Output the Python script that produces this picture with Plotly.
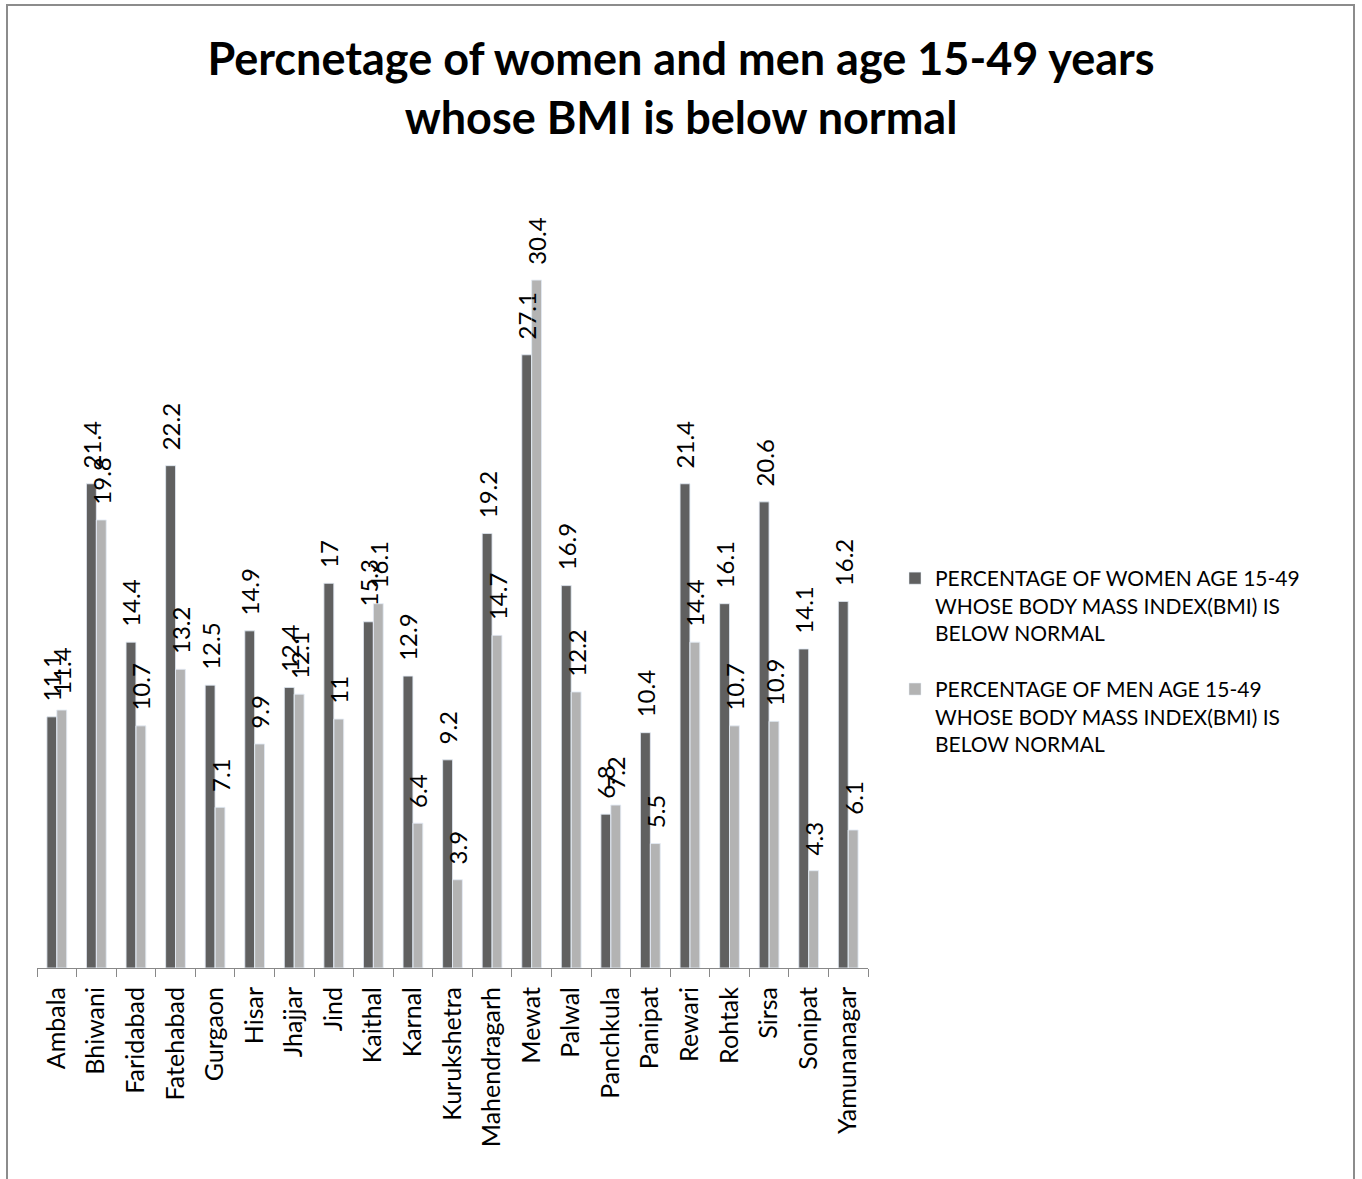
import plotly.graph_objects as go

districts = ["Ambala", "Bhiwani", "Faridabad", "Fatehabad", "Gurgaon", "Hisar", "Jhajjar",
             "Jind", "Kaithal", "Karnal", "Kurukshetra", "Mahendragarh", "Mewat", "Palwal",
             "Panchkula", "Panipat", "Rewari", "Rohtak", "Sirsa", "Sonipat", "Yamunanagar"]
women = [11.1, 21.4, 14.4, 22.2, 12.5, 14.9, 12.4, 17, 15.3, 12.9, 9.2, 19.2, 27.1, 16.9,
         6.8, 10.4, 21.4, 16.1, 20.6, 14.1, 16.2]
men = [11.4, 19.8, 10.7, 13.2, 7.1, 9.9, 12.1, 11, 16.1, 6.4, 3.9, 14.7, 30.4, 12.2,
       7.2, 5.5, 14.4, 10.7, 10.9, 4.3, 6.1]

name_w = "PERCENTAGE OF WOMEN AGE 15-49<br>WHOSE BODY MASS INDEX(BMI) IS<br>BELOW NORMAL"
name_m = "PERCENTAGE OF MEN AGE 15-49<br>WHOSE BODY MASS INDEX(BMI) IS<br>BELOW NORMAL"

FONT = "Lato"
W, H = 1362, 1179
L, R, T, B = 37, 868, 176, 968
PAD = "\u00a0\u00a0"

fig = go.Figure()
# visible bars
fig.add_trace(go.Bar(x=districts, y=women, name=name_w, marker_color="#606060", legendgroup="w"))
fig.add_trace(go.Bar(x=districts, y=men, name=name_m, marker_color="#B3B3B3", legendgroup="m"))
# transparent copies on an overlaid axis pair carrying the value labels (drawn above all bars)
for vals in (women, men):
    fig.add_trace(go.Bar(x=districts, y=vals, xaxis="x2", yaxis="y2", showlegend=False,
                         marker_color="rgba(0,0,0,0)", hoverinfo="skip",
                         text=[PAD + f"{v:g}" for v in vals], textposition="outside",
                         textangle=-90, constraintext="none", cliponaxis=False,
                         textfont=dict(size=24, color="#000000", family=FONT)))

def px_x(p):
    return (p - L) / (R - L)

def px_y(p):
    return (B - p) / (B - T)

fig.update_layout(
    width=W, height=H,
    margin=dict(l=L, r=W - R, t=T, b=H - B, autoexpand=False),
    paper_bgcolor="white", plot_bgcolor="white",
    barmode="group", bargap=0.5, bargroupgap=0.0,
    font=dict(family=FONT, size=17, color="#000000"),
    title=dict(text="<b>Percnetage of women and men age 15-49 years<br>whose BMI is below normal</b>",
               x=0.5, xanchor="center", xref="container", yref="container",
               y=1 - 75 / H, yanchor="top",
               font=dict(family=FONT, size=45, color="#000000")),
    showlegend=True,
    legend=dict(x=px_x(895), y=px_y(558), xanchor="left", yanchor="top",
                font=dict(family=FONT, size=21, color="#000000"),
                tracegroupgap=26, itemwidth=30, valign="top", bgcolor="rgba(0,0,0,0)"),
    xaxis=dict(showline=True, linecolor="#888888", linewidth=1, ticks="outside",
               ticklen=8, tickcolor="#888888", tickson="boundaries", tickangle=-90,
               ticklabelstandoff=8,
               tickfont=dict(family=FONT, size=25, color="#000000"), showgrid=False),
    yaxis=dict(range=[0, 35], visible=False, showgrid=False),
    xaxis2=dict(overlaying="x", matches="x", visible=False, showgrid=False),
    yaxis2=dict(overlaying="y", range=[0, 35], visible=False, showgrid=False),
    shapes=[dict(type="rect", xref="paper", yref="paper",
                 x0=px_x(7), x1=px_x(1354), y0=px_y(1190), y1=px_y(5),
                 line=dict(color="#8c8c8c", width=2), fillcolor="rgba(0,0,0,0)", layer="below")],
)

fig.write_html("out.html")
